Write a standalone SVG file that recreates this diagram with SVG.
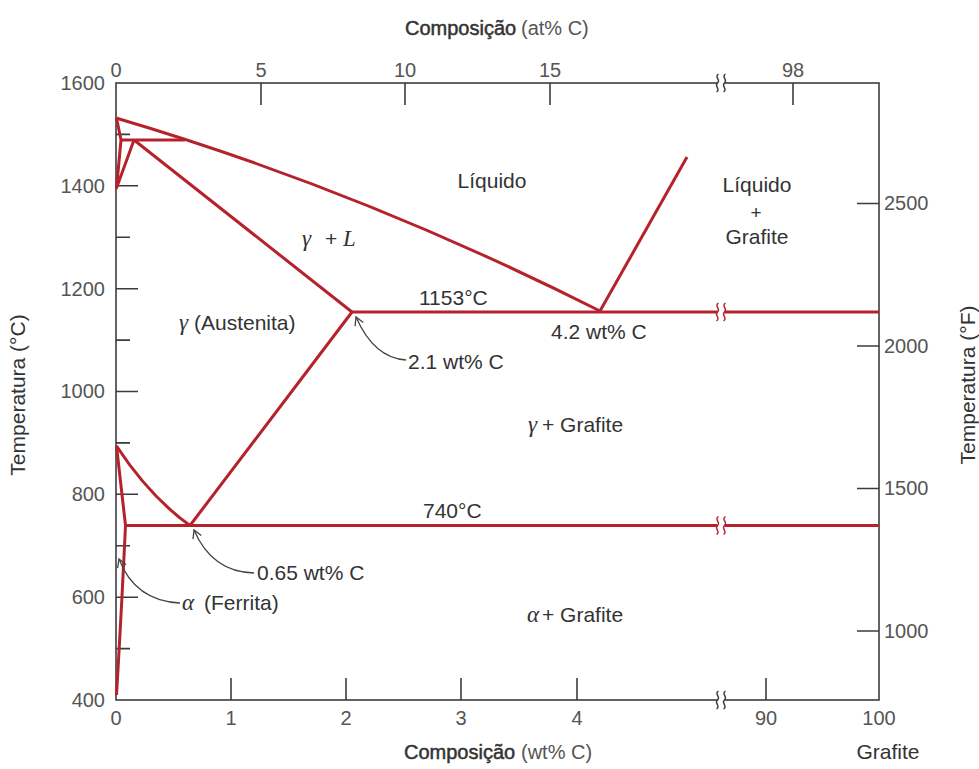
<svg xmlns="http://www.w3.org/2000/svg" width="979" height="769" viewBox="0 0 979 769">
<style>
.ph{fill:none;stroke:#b5222c;stroke-width:3;stroke-linejoin:round}
.ax{fill:none;stroke:#3c3c3c;stroke-width:1.6}
.tk{stroke:#3c3c3c;stroke-width:1.6}
.num{font-family:"Liberation Sans",Arial,sans-serif;font-size:20px;fill:#555}
.lab{font-family:"Liberation Sans",Arial,sans-serif;font-size:21px;fill:#333}
.ttl{font-family:"Liberation Sans",Arial,sans-serif;font-size:21px;fill:#333}
.ttb{font-family:"Liberation Sans",Arial,sans-serif;font-size:20px;fill:#333;stroke:#333;stroke-width:0.5}
.tts{font-family:"Liberation Sans",Arial,sans-serif;font-size:20px;fill:#555}
.gr{font-family:"Liberation Serif","DejaVu Serif",serif;font-style:italic;font-size:23px;fill:#333}
.ann{fill:none;stroke:#444;stroke-width:1.3}
.bk{fill:none;stroke-width:1.4}
</style>
<defs>
<marker id="ah" markerWidth="12" markerHeight="12" refX="10" refY="6" orient="auto" markerUnits="userSpaceOnUse"><path d="M2,1.5 L10,6 L2,10.5" fill="none" stroke="#444" stroke-width="1.3"/></marker>
<g id="brk"><rect x="-3.5" y="-3" width="7" height="6" fill="#fff" stroke="none"/><path d="M-2.5,-9 C-7.5,-6 0.5,-3 -3.5,0 C-7.5,3 0.5,6 -4.5,9"/><path d="M4.5,-9 C-0.5,-6 7.5,-3 3.5,0 C-0.5,3 7.5,6 2.5,9"/></g>
</defs>

<g id="axes">
<rect class="ax" x="116" y="83" width="763" height="617"/>
<path class="tk" d="M261,83V105M405,83V105M550,83V105M793,83V105"/>
<path class="tk" d="M231,700V678M346,700V678M461,700V678M577,700V678M766,700V678"/>
<path class="tk" d="M116,185.8H138M116,288.7H138M116,391.5H138M116,494.3H138M116,597.2H138"/>
<path class="tk" d="M116,134.4H130M116,237.3H130M116,340.1H130M116,442.9H130M116,545.8H130M116,648.6H130"/>
<path class="tk" d="M857,203.5H879M857,346H879M857,488.5H879M857,631H879"/>
<use href="#brk" x="721" y="83" class="bk" stroke="#3c3c3c"/>
<use href="#brk" x="721" y="700" class="bk" stroke="#3c3c3c"/>
</g>

<g id="axis-labels">
<g class="num" text-anchor="middle">
<text x="116" y="77">0</text><text x="261" y="77">5</text><text x="405" y="77">10</text><text x="550" y="77">15</text><text x="793" y="77">98</text>
<text x="116" y="725">0</text><text x="231" y="725">1</text><text x="346" y="725">2</text><text x="461" y="725">3</text><text x="577" y="725">4</text><text x="766" y="725">90</text><text x="879" y="725">100</text>
</g>
<g class="num" text-anchor="end">
<text x="105" y="90">1600</text><text x="105" y="193">1400</text><text x="105" y="296">1200</text><text x="105" y="398">1000</text><text x="105" y="501">800</text><text x="105" y="604">600</text><text x="105" y="707">400</text>
</g>
<g class="num">
<text x="884" y="210">2500</text><text x="884" y="353">2000</text><text x="884" y="495">1500</text><text x="884" y="638">1000</text>
</g>
<text class="ttb" x="405" y="35">Composição</text>
<text class="tts" x="521" y="35">(at% C)</text>
<text class="ttb" x="404" y="759">Composição</text>
<text class="tts" x="521" y="759">(wt% C)</text>
<text class="ttl" x="888" y="759" text-anchor="middle">Grafite</text>
<text class="ttl" transform="translate(25,395) rotate(-90)" text-anchor="middle">Temperatura (°C)</text>
<text class="ttl" transform="translate(975,385) rotate(-90)" text-anchor="middle">Temperatura (°F)</text>
</g>

<g id="phase-boundaries">
<path class="ph" d="M116,118 Q360,190 600,311"/>
<path class="ph" d="M600,311 L687,157"/>
<path class="ph" d="M352,312 H879"/>
<path class="ph" d="M134,140 L352,312 L190,525.5"/>
<path class="ph" d="M125,525.5 H879"/>
<path class="ph" d="M116.5,446 Q150,497 190,525.5"/>
<path class="ph" d="M116.5,446 L125.5,525.5 Q121,620 116.5,695"/>
<path class="ph" d="M121,140 H185"/>
<path class="ph" d="M116.5,118 L121,140 L116.5,188 L134,140"/>
<use href="#brk" x="721" y="312" class="bk" stroke="#b5222c"/>
<use href="#brk" x="721" y="525.5" class="bk" stroke="#b5222c"/>
</g>

<g id="connectors">
<path class="ann" d="M406,360 Q374,358 356,317" marker-end="url(#ah)"/>
<path class="ann" d="M254,573 Q212,572 194,530" marker-end="url(#ah)"/>
<path class="ann" d="M180,603 Q135,601 119,559" marker-end="url(#ah)"/>
</g>

<g id="labels">
<text class="lab" x="492" y="188" text-anchor="middle">Líquido</text>
<text class="lab" x="757" y="192" text-anchor="middle">Líquido</text>
<text class="lab" x="756" y="219" text-anchor="middle" style="font-size:19px">+</text>
<text class="lab" x="757" y="244" text-anchor="middle">Grafite</text>
<text class="gr" x="302" y="246">γ</text>
<text class="lab" x="325" y="246">+</text>
<text class="gr" x="343" y="246">L</text>
<text class="lab" x="419" y="305">1153°C</text>
<text class="lab" x="551" y="339">4.2 wt% C</text>
<text class="gr" x="179" y="330">γ</text>
<text class="lab" x="194" y="330">(Austenita)</text>
<text class="lab" x="408" y="369">2.1 wt% C</text>
<text class="gr" x="528" y="432">γ</text>
<text class="lab" x="542" y="432">+ Grafite</text>
<text class="lab" x="423" y="518">740°C</text>
<text class="lab" x="257" y="580">0.65 wt% C</text>
<text class="gr" x="182" y="610">α</text>
<text class="lab" x="204" y="610">(Ferrita)</text>
<text class="gr" x="527" y="622">α</text>
<text class="lab" x="542" y="622">+ Grafite</text>
</g>
</svg>
